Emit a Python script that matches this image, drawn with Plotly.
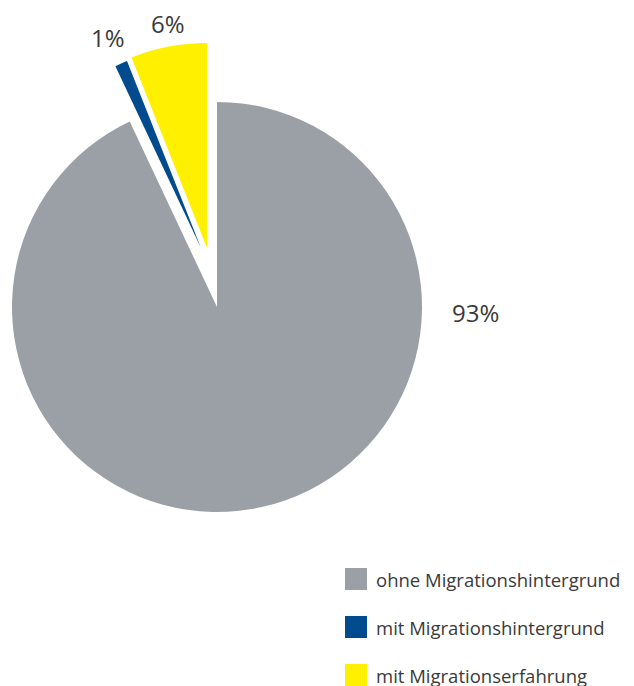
import plotly.graph_objects as go

# Share of people by migration background (percent)
labels = ["ohne Migrationshintergrund", "mit Migrationshintergrund", "mit Migrationserfahrung"]
values = [93, 1, 6]
colors = ["#9aa0a6", "#004b8d", "#fff000"]

W, H = 634, 686
R = 205
TRANSPARENT = "rgba(0,0,0,0)"
FONT = "Open Sans"
TEXT_COLOR = "#3a3a3a"

# Pixel centre and radius of each slice; the two small slices are exploded
slice_geometry = [
    (217, 307, R),   # main slice
    (201, 248, 201), # exploded
    (207, 248, R),   # exploded
]


def domain_for(cx, cy, r):
    return dict(x=[(cx - r) / W, (cx + r) / W],
                y=[1 - (cy + r) / H, 1 - (cy - r) / H])


fig = go.Figure()
for i, (cx, cy, r) in enumerate(slice_geometry):
    slice_colors = [c if j == i else TRANSPARENT for j, c in enumerate(colors)]
    fig.add_trace(go.Pie(
        labels=labels,
        values=values,
        sort=False,
        direction="clockwise",
        rotation=0,
        marker=dict(colors=slice_colors, line=dict(width=0)),
        textinfo="none",
        hoverinfo="skip",
        domain=domain_for(cx, cy, r),
        showlegend=False,
    ))

# Percentage labels
label_pos = [(475, 312), (108, 38), (168, 23)]
annotations = []
for v, (x, y) in zip(values, label_pos):
    annotations.append(dict(
        text=f"{v}%", x=x / W, y=1 - y / H, xref="paper", yref="paper",
        xanchor="center", yanchor="middle", showarrow=False,
        font=dict(family=FONT, size=24, color=TEXT_COLOR),
    ))

# Legend: colour squares with labels
shapes = []
leg_x, leg_y0, leg_step, sq = 345, 579, 48, 22
for k, (lab, col) in enumerate(zip(labels, colors)):
    yc = leg_y0 + k * leg_step
    shapes.append(dict(
        type="rect", xref="paper", yref="paper",
        x0=leg_x / W, x1=(leg_x + sq) / W,
        y0=1 - (yc + sq / 2) / H, y1=1 - (yc - sq / 2) / H,
        fillcolor=col, line=dict(width=0),
    ))
    annotations.append(dict(
        text=lab, x=(leg_x + sq + 7) / W, y=1 - yc / H,
        xref="paper", yref="paper", xanchor="left", yanchor="middle",
        showarrow=False, font=dict(family=FONT, size=18.5, color=TEXT_COLOR),
    ))

fig.update_layout(
    width=W, height=H,
    margin=dict(l=0, r=0, t=0, b=0),
    paper_bgcolor="white", plot_bgcolor="white",
    showlegend=False,
    annotations=annotations,
    shapes=shapes,
)

fig.write_html("out.html")
